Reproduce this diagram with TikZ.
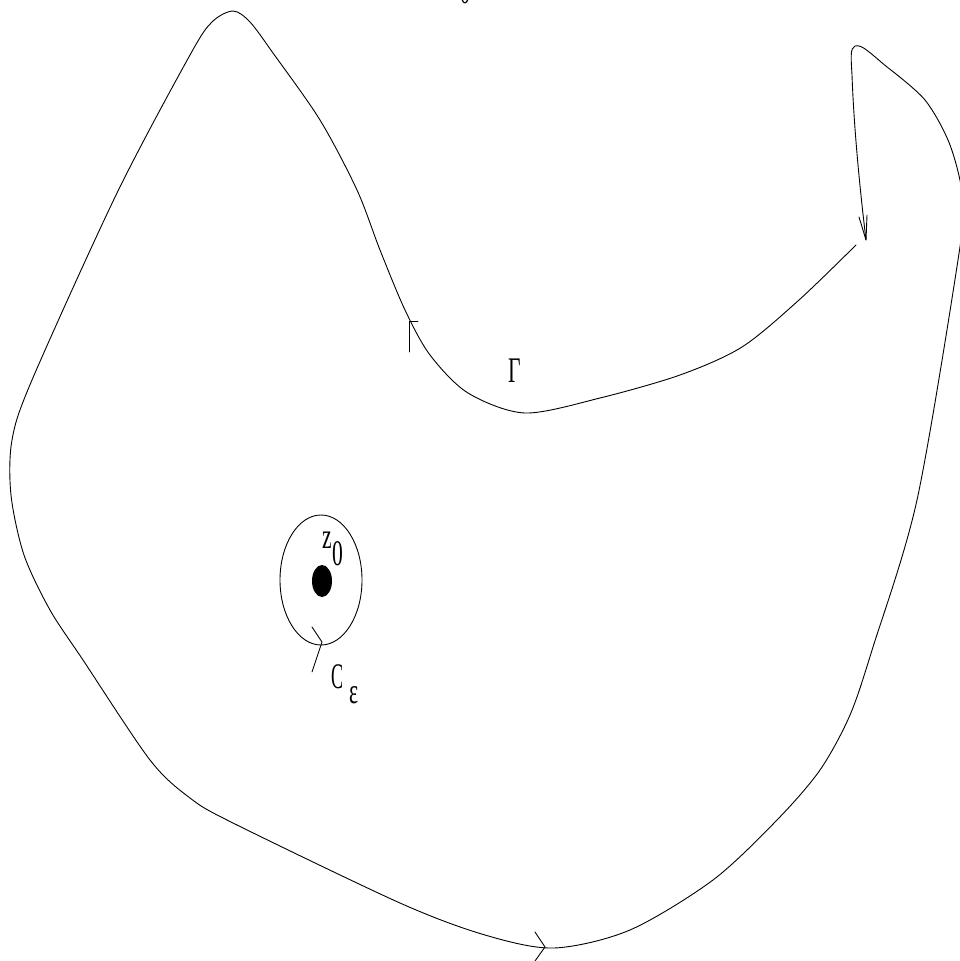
\documentclass[tikz,border=0pt]{standalone}
\usepackage{fontspec}
\setmainfont{Liberation Serif}
\begin{document}
\begin{tikzpicture}[x=1pt,y=-1pt,
  stroke/.style={line width=0.9pt, line join=round, line cap=round},
  lbl/.style={inner sep=0pt, outer sep=0pt, anchor=base west, font=\fontsize{36}{36}\selectfont}]
\useasboundingbox (0,0) rectangle (959,961);
% main contour Gamma
\draw[stroke] plot[smooth, tension=0.5] coordinates {
 (856,245) (799,300) (742,347) (680,375) (600,398) (525,413)
 (468,393) (430,355) (405,310) (380,250) (357,190) (320,120) (273,53)
 (250,22) (233,11) (212,22) (190,55) (117,193) (32,380) (12,440) (11,495)
 (24,555) (50,610) (83,660) (150,760) (190,798) (233,823) (400,903) (485,935) (554,948)
 (630,930) (713,880) (777,820) (820,770) (850,715) (873,647) (917,500)
 (958,260) (963,200) (950,145) (925,100) (887,67)}
 .. controls (870,53) and (862,44) .. (855,46)
 .. controls (850,48) and (851,58) .. (852,75)
 .. controls (854,130) and (860,190) .. (866,240);
\coordinate (tipA) at (866,240);
\coordinate (tipB) at (409,321);
\coordinate (tipC) at (545,947);
\coordinate (tipD) at (322,642);
% arrow heads
\draw[stroke] (859,217) -- (tipA) -- (867,215);
\draw[stroke] (409,352) -- (tipB) -- (418,321);
\draw[stroke] (535,932) -- (tipC) -- (535,961);
\draw[stroke] (312,627) -- (tipD) -- (312,672);
% small circle C_epsilon and the point z_0
\draw[stroke] (321,580) ellipse [x radius=41, y radius=65];
\fill (322,581) ellipse [x radius=10, y radius=16];
% labels
\node[lbl] (gam) at (508,382) {\scalebox{0.6}[1]{Γ}};
\node[lbl] (zz) at (322,548) {\scalebox{0.6}[1]{z}};
\node[lbl] (z0) at (332,565) {\scalebox{0.6}[1]{0}};
\node[lbl] (cc) at (331,688) {\scalebox{0.5}[1]{C}};
\node[lbl] (eps) at (349,703) {\scalebox{0.6}[1]{ε}};
\node[inner sep=0pt, anchor=base, font=\fontsize{33}{33}\selectfont] (top0) at (465,3.5) {\scalebox{0.6}[1]{0}};
\end{tikzpicture}
\end{document}
